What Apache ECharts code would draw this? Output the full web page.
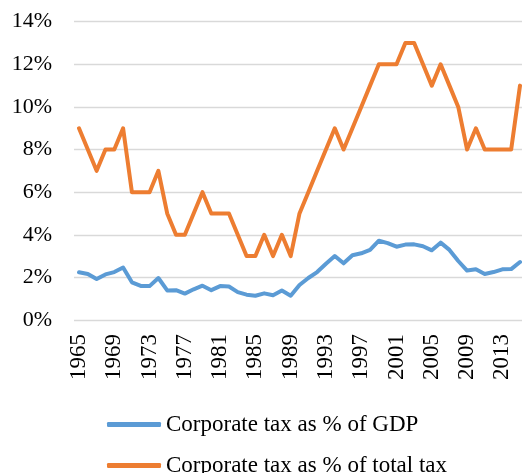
<!DOCTYPE html>
<html>
<head>
<meta charset="utf-8">
<script src="https://cdn.jsdelivr.net/npm/echarts@6/dist/echarts.min.js"></script>
<style>html,body{margin:0;padding:0;background:#fff;}#c{width:522px;height:473px;}</style>
</head>
<body>
<div id="c"></div>
<script>
var years = [];
for (var y = 1965; y <= 2015; y++) years.push(String(y));

var gdpShare = [2.24,2.16,1.92,2.14,2.25,2.46,1.77,1.6,1.59,1.97,1.39,1.4,1.24,1.44,1.61,1.4,1.59,1.57,1.31,1.19,1.14,1.25,1.16,1.38,1.14,1.64,1.97,2.25,2.64,3.0,2.66,3.04,3.13,3.29,3.72,3.61,3.44,3.54,3.55,3.46,3.27,3.63,3.29,2.77,2.32,2.38,2.16,2.25,2.38,2.39,2.72];
var taxShare = [9,8,7,8,8,9,6,6,6,7,5,4,4,5,6,5,5,5,4,3,3,4,3,4,3,5,6,7,8,9,8,9,10,11,12,12,12,13,13,12,11,12,11,10,8,9,8,8,8,8,11];

var seriesNames = ['Corporate tax as % of GDP', 'Corporate tax as % of total tax'];
var font = '"Liberation Serif", "Times New Roman", serif';

function legendFor(name, top) {
  return {
    orient: 'horizontal',
    left: 102,
    top: top,
    itemWidth: 54,
    itemHeight: 5,
    icon: 'roundRect',
    textStyle: {fontFamily: font, fontSize: 23, color: '#000'},
    data: [name]
  };
}

var chart = echarts.init(document.getElementById('c'), null, {renderer: 'canvas'});
chart.setOption({
  animation: false,
  backgroundColor: '#fff',
  grid: [
    {left: 74, right: 0, top: 21.7, height: 298.3},
    {left: 79, right: 2, top: 21.7, height: 298.3}
  ],
  legend: [legendFor(seriesNames[0], 408), legendFor(seriesNames[1], 449)],
  xAxis: [
    {gridIndex: 0, type: 'value', min: 0, max: 1, show: false},
    {
      gridIndex: 1, type: 'category', data: years, boundaryGap: false,
      axisLine: {show: false}, axisTick: {show: false},
      axisLabel: {
        rotate: 90, interval: 3, margin: 14,
        fontFamily: font, fontSize: 23, color: '#000'
      },
      splitLine: {show: false}
    }
  ],
  yAxis: [
    {
      gridIndex: 0, type: 'value', min: 0, max: 14, interval: 2,
      axisLine: {show: false}, axisTick: {show: false},
      axisLabel: {
        margin: 22, fontFamily: font, fontSize: 22, color: '#000',
        formatter: function (v) { return v + '%'; }
      },
      splitLine: {show: true, lineStyle: {color: '#d9d9d9', width: 1.3}}
    },
    {gridIndex: 1, type: 'value', min: 0, max: 14, interval: 2, show: false, splitLine: {show: false}}
  ],
  series: [
    {
      name: seriesNames[0], type: 'line', xAxisIndex: 1, yAxisIndex: 1,
      data: gdpShare, showSymbol: false, symbol: 'none',
      itemStyle: {color: '#5B9BD5'},
      lineStyle: {color: '#5B9BD5', width: 4, cap: 'round', join: 'round'}
    },
    {
      name: seriesNames[1], type: 'line', xAxisIndex: 1, yAxisIndex: 1,
      data: taxShare, showSymbol: false, symbol: 'none',
      itemStyle: {color: '#ED7D31'},
      lineStyle: {color: '#ED7D31', width: 4, cap: 'round', join: 'round'}
    }
  ]
});
</script>
</body>
</html>
